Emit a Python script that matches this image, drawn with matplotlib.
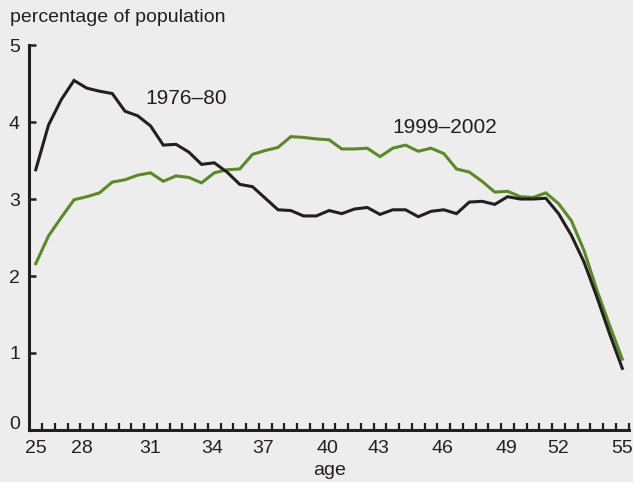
import matplotlib
matplotlib.use("Agg")
import matplotlib.pyplot as plt
import matplotlib.transforms as mtransforms
import numpy as np

# the values, one per age step
rate_1976_80 = [3.38, 3.96, 4.29, 4.54, 4.44, 4.40, 4.37, 4.14, 4.08, 3.95,
                3.70, 3.71, 3.61, 3.45, 3.47, 3.35, 3.19, 3.16, 3.01, 2.86,
                2.85, 2.78, 2.78, 2.85, 2.81, 2.87, 2.89, 2.80, 2.86, 2.86,
                2.77, 2.84, 2.86, 2.81, 2.96, 2.97, 2.93, 3.03, 3.00, 3.00,
                3.01, 2.81, 2.53, 2.18, 1.73, 1.25, 0.80]
rate_1999_2002 = [2.16, 2.52, 2.76, 2.99, 3.03, 3.08, 3.22, 3.25, 3.31, 3.34,
                  3.23, 3.30, 3.28, 3.21, 3.34, 3.38, 3.39, 3.58, 3.63, 3.67,
                  3.81, 3.80, 3.78, 3.77, 3.65, 3.65, 3.66, 3.55, 3.66, 3.70,
                  3.62, 3.66, 3.59, 3.39, 3.35, 3.23, 3.09, 3.10, 3.03, 3.02,
                  3.08, 2.94, 2.72, 2.33, 1.82, 1.36, 0.92]

age_labels = ["25", "28", "31", "34", "37", "40", "43", "46", "49", "52", "55"]
age_label_pos = [0, 3.6, 9.0, 13.8, 17.8, 22.9, 26.9, 31.9, 36.9, 41.0, 46.0]
y_ticks = [0, 1, 2, 3, 4, 5]

bg = "#ededed"
ink = "#231f20"
green = "#5a8a23"

plt.rcParams['font.family'] = ['Liberation Sans', 'DejaVu Sans']

fig = plt.figure(figsize=(6.33, 4.82), dpi=100, facecolor=bg)
ax = fig.add_axes([0.0458, 0.1079, 0.9484, 0.7987])
ax.set_facecolor(bg)

x = np.arange(len(rate_1976_80))
ax.plot(x, rate_1999_2002, color=green, lw=2.2, solid_joinstyle='miter')
ax.plot(x, rate_1976_80, color=ink, lw=2.2, solid_joinstyle='miter')

ax.text(8.6, 4.3, "1976\u201380", fontsize=15, color=ink, va='center', ha='left')
ax.text(28.0, 3.93, "1999\u20132002", fontsize=15, color=ink, va='center', ha='left')

ax.set_xlim(-0.53, 46.55)
ax.set_ylim(0, 5)

for s in ['top', 'right']:
    ax.spines[s].set_visible(False)
for s in ['left', 'bottom']:
    ax.spines[s].set_color(ink)
    ax.spines[s].set_linewidth(2.2)
    ax.spines[s].set_capstyle('projecting')

ax.set_xticks(age_label_pos)
ax.set_xticklabels(age_labels)
ax.set_xticks(np.arange(len(rate_1976_80)) + 0.5, minor=True)
ax.tick_params(axis='x', which='major', length=0, pad=7.5, labelsize=14, labelcolor=ink)
ax.tick_params(axis='x', which='minor', direction='in', length=5, width=1.6, color=ink)

ax.set_yticks(y_ticks)
ax.tick_params(axis='y', which='major', direction='in', length=5, width=1.8,
               color=ink, pad=6.5, labelsize=14, labelcolor=ink)

ax.set_xlabel("age", fontsize=14, color=ink, labelpad=3.5)
fig.text(0.016, 0.963, "percentage of population", fontsize=14, color=ink,
         ha='left', va='center')

# the zero label sits a little above the axis line in the original
lbl0 = ax.get_yticklabels()[0]
lbl0.set_transform(lbl0.get_transform() +
                   mtransforms.ScaledTranslation(0, 7 / 100, fig.dpi_scale_trans))

fig.savefig("out.png", dpi=100, facecolor=bg)
